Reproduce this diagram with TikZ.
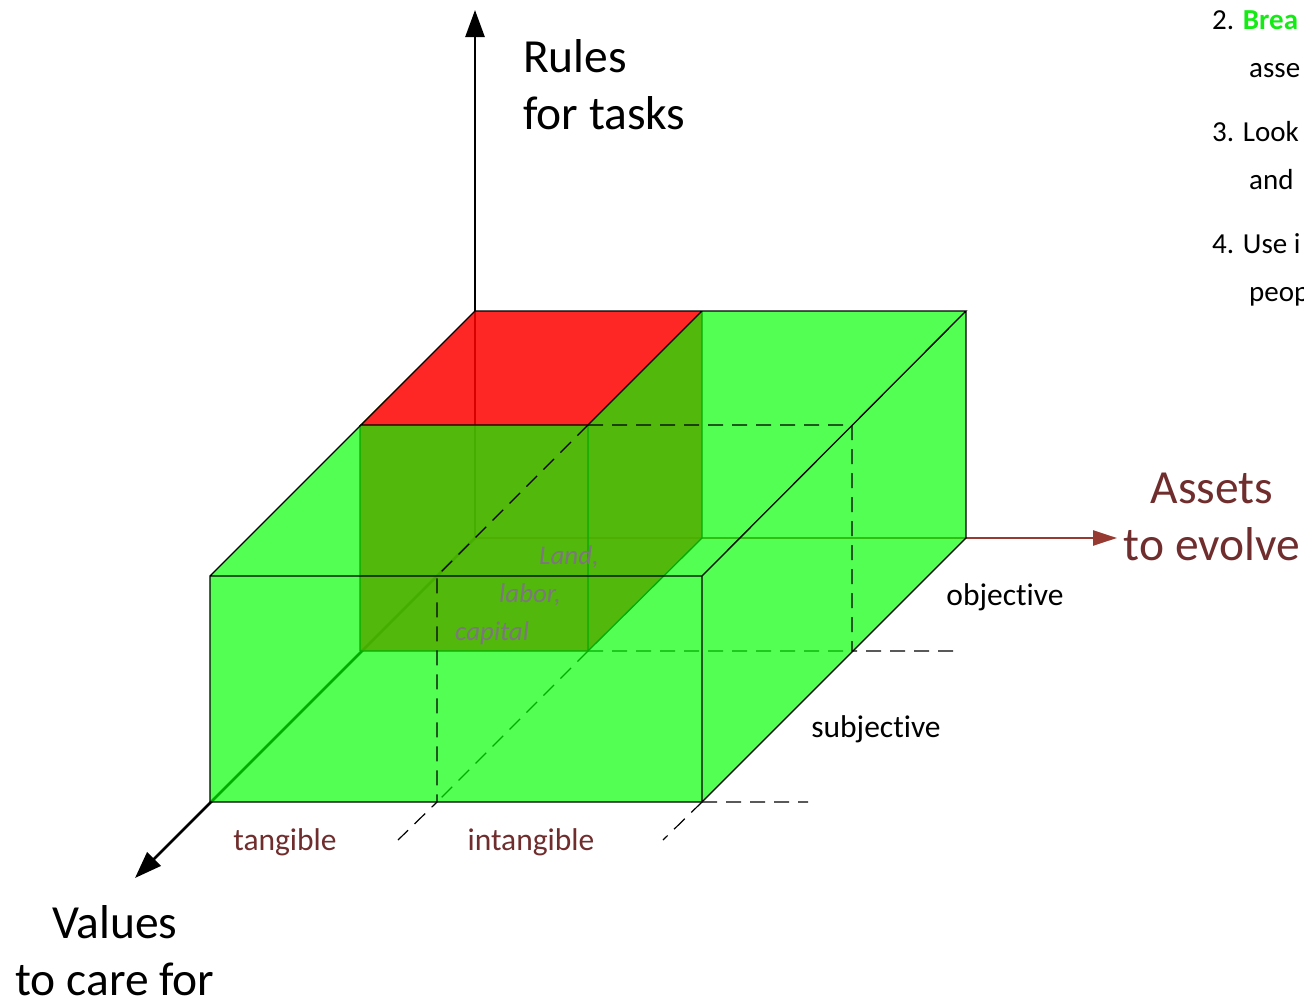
\documentclass[tikz,border=0pt]{standalone}
\usepackage{fontspec}
\setmainfont{Carlito}[Ligatures=NoCommon]
\usetikzlibrary{arrows.meta}
\definecolor{boxgreen}{RGB}{0,255,0}
\definecolor{boxred}{RGB}{255,0,0}
\definecolor{axisred}{RGB}{150,58,50}
\definecolor{labelred}{RGB}{112,45,45}
\definecolor{notegray}{RGB}{125,118,125}
\definecolor{brightgreen}{RGB}{20,235,20}
\begin{document}
\begin{tikzpicture}[x=1pt,y=-1pt,
  axis/.style={line width=2.6pt,-{Triangle[length=27pt,width=19pt]}},
  edge/.style={line width=1.3pt},
  hidden/.style={line width=1.2pt,dash pattern=on 15pt off 9pt},
  big/.style={font=\fontsize{47.5}{57}\selectfont,inner sep=0pt},
  small/.style={font=\fontsize{31.5}{38}\selectfont,inner sep=0pt,anchor=base},
  note/.style={font=\fontsize{27}{38}\selectfont\itshape,text=notegray,inner sep=0pt,anchor=base west},
  item/.style={font=\fontsize{29}{48}\selectfont,inner sep=0pt,anchor=base west}]
\clip (0,0) rectangle (1304,1001);

\coordinate (O) at (475,538);
\coordinate (A) at (210,802);
\coordinate (B) at (702,802);
\coordinate (C) at (210,576);
\coordinate (D) at (702,576);
\coordinate (E) at (475,311);
\coordinate (F) at (966,311);
\coordinate (G) at (966,538);
\coordinate (P) at (360,425);
\coordinate (Q) at (588,425);
\coordinate (R) at (360,651);
\coordinate (S) at (588,651);
\coordinate (T) at (702,311);
\coordinate (U) at (702,538);
\coordinate (M) at (437,576);
\coordinate (N) at (437,802);
\coordinate (K) at (852,425);
\coordinate (L) at (852,651);
\coordinate (rulesEnd) at (475,10);
\coordinate (valuesEnd) at (135,878);
\coordinate (assetsEnd) at (1117,538);
\coordinate (objEnd) at (958,651);
\coordinate (frontEnd) at (808,802);
\coordinate (tanEnd) at (398,840);
\coordinate (intEnd) at (663,840);

\draw[axis] (O) -- (rulesEnd);
\draw[axis] (O) -- (valuesEnd);
\draw[axis,axisred,line width=2.4pt,-{Triangle[length=24pt,width=15pt]}] (O) -- (assetsEnd);
\draw[hidden] (S) -- (L) (S) -- (N);

\fill[boxred,opacity=0.85] (R) -- (P) -- (E) -- (T) -- (U) -- (S) -- cycle;
\draw[edge] (R) -- (P) (Q) -- (S) -- (R) (T) -- (U) -- (S);
\fill[boxgreen,opacity=0.68,even odd rule] (A) -- (C) -- (E) -- (F) -- (G) -- (B) -- cycle
  (P) -- (Q) -- (T) -- (E) -- cycle;
\draw[edge] (A) -- (B) -- (D) -- (C) -- cycle (C) -- (E) -- (F) -- (D) (F) -- (G) -- (B)
  (P) -- (Q) -- (T);
\draw[hidden] (Q) -- (K) -- (L) -- (objEnd) (Q) -- (M) -- (N) -- (tanEnd)
  (B) -- (frontEnd) (B) -- (intEnd);

\node[big,anchor=base west,align=left] (rulesLabel) at (523,129) {Rules\\for tasks};
\node[big,anchor=base,align=center] (valuesLabel) at (115,995) {Values\\to care for};
\node[big,anchor=base,align=center,text=labelred] (assetsLabel) at (1212,560) {Assets\\to evolve};

\node[small,text=labelred] (tangibleLabel) at (285,850) {tangible};
\node[small,text=labelred] (intangibleLabel) at (531,850) {intangible};
\node[small] (objectiveLabel) at (1005,605) {objective};
\node[small] (subjectiveLabel) at (876,737) {subjective};

\node[note] (landNote) at (539,564) {Land,};
\node[note] (laborNote) at (499,602) {labor,};
\node[note] (capitalNote) at (455,640) {capital};

\node[item] (itemTwo) at (1212,29) {2. \textbf{\textcolor{brightgreen}{Brea}}};
\node[item] (itemTwoMore) at (1249,77) {asse};
\node[item] (itemThree) at (1212,141) {3. Look};
\node[item] (itemThreeMore) at (1249,189) {and};
\node[item] (itemFour) at (1212,253) {4. Use i};
\node[item] (itemFourMore) at (1249,301) {peop};
\end{tikzpicture}
\end{document}
